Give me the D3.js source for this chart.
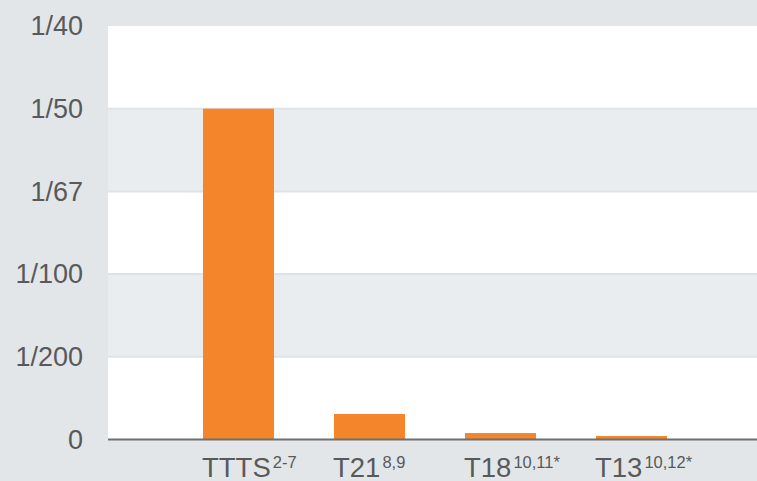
<!DOCTYPE html>
<html>
<head>
<meta charset="utf-8">
<script src="https://cdn.jsdelivr.net/npm/d3@7"></script>
<style>
  html, body { margin: 0; padding: 0; background: #e3e6e8; }
  svg { display: block; }
  text { font-family: "Liberation Sans", Arial, Helvetica, sans-serif; fill: #58595b; }
</style>
</head>
<body>
<svg id="chart" width="757" height="481"></svg>
<script>
const categories = ["TTTS", "T21", "T18", "T13"];
const superscripts = ["2-7", "8,9", "10,11*", "10,12*"];
const values = [0.02, 0.00154, 0.00039, 0.00021];
const tickValues = [0, 0.005, 0.01, 0.015, 0.02, 0.025];
const tickLabels = ["0", "1/200", "1/100", "1/67", "1/50", "1/40"];

const W = 757, H = 481;
const plotLeft = 108, plotRight = 757, plotTop = 26, plotBottom = 439.5;

const svg = d3.select("#chart");
svg.append("rect").attr("width", W).attr("height", H).attr("fill", "#e3e6e8");

const y = d3.scaleLinear().domain([0, 0.025]).range([plotBottom, plotTop]);
const x = d3.scaleBand().domain(categories).range([173, 697])
  .paddingInner(0.458).paddingOuter(0.229);

// alternating bands
const bands = d3.pairs(tickValues);
svg.append("g").selectAll("rect").data(bands).join("rect")
  .attr("x", plotLeft)
  .attr("width", plotRight - plotLeft)
  .attr("y", d => y(d[1]))
  .attr("height", d => y(d[0]) - y(d[1]))
  .attr("fill", (d, i) => i % 2 === 1 ? "#e9edf0" : "#ffffff");

// gridlines
svg.append("g").selectAll("line").data(tickValues.slice(1, -1)).join("line")
  .attr("x1", plotLeft).attr("x2", plotRight)
  .attr("y1", d => y(d)).attr("y2", d => y(d))
  .attr("stroke", "#dfe3e6").attr("stroke-width", 2);

// y axis labels
const yAxis = d3.axisLeft(y).tickValues(tickValues)
  .tickFormat((d, i) => tickLabels[i]).tickSize(0).tickPadding(0);
const gy = svg.append("g").attr("transform", `translate(83,0)`).call(yAxis);
gy.select(".domain").remove();
gy.selectAll("text").attr("font-size", 27).attr("fill", "#58595b")
  .attr("font-family", "'Liberation Sans', Arial, sans-serif");

// bars
svg.append("g").selectAll("rect").data(values).join("rect")
  .attr("x", (d, i) => x(categories[i]))
  .attr("width", x.bandwidth())
  .attr("y", d => y(d))
  .attr("height", d => y(0) - y(d))
  .attr("fill", "#f5852a");

// baseline
svg.append("line")
  .attr("x1", plotLeft).attr("x2", plotRight)
  .attr("y1", y(0)).attr("y2", y(0))
  .attr("stroke", "#6f7072").attr("stroke-width", 2);

// x labels
const xl = svg.append("g").selectAll("text").data(categories).join("text")
  .attr("x", d => x(d) - 1)
  .attr("y", 477)
  .attr("font-size", 27.5);
xl.append("tspan").text(d => d);
xl.append("tspan").attr("font-size", 16.5).attr("dy", -9).attr("dx", 2)
  .text((d, i) => superscripts[i]);
</script>
</body>
</html>
